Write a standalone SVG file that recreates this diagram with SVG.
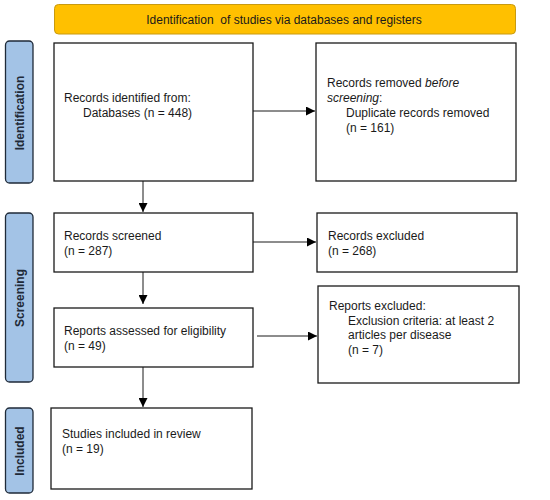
<svg xmlns="http://www.w3.org/2000/svg" width="550" height="500" viewBox="0 0 550 500">
<defs>
<style>
text{font-family:"Liberation Sans",Arial,sans-serif;font-size:12px;fill:#1a1a1a}
.lbl{font-weight:bold;fill:#1f2a38}
.box{fill:#fff;stroke:#1a1a1a;stroke-width:1.3}
.side{fill:#a3c3e6;stroke:#1f2a38;stroke-width:1.3}
.conn{stroke:#1a1a1a;stroke-width:1;fill:none;marker-end:url(#ah)}
</style>
<marker id="ah" viewBox="0 0 10 10" refX="10" refY="5" markerWidth="9" markerHeight="9" markerUnits="userSpaceOnUse" orient="auto"><path d="M0,0 L10,5 L0,10 z" fill="#000"/></marker>
</defs>
<rect width="550" height="500" fill="#fff"/>
<g id="header">
<rect x="54.5" y="4.5" width="461" height="29.5" rx="4" fill="#ffc000" stroke="#c89a10" stroke-width="1"/>
<text x="284" y="24" text-anchor="middle" font-size="13" xml:space="preserve">Identification  of studies via databases and registers</text>
</g>
<g id="side-identification">
<rect class="side" x="5.5" y="41" width="27.5" height="142" rx="4"/>
<text class="lbl" transform="translate(23.5,113) rotate(-90)" text-anchor="middle">Identification</text>
</g>
<g id="side-screening">
<rect class="side" x="5.5" y="213" width="27.5" height="169" rx="4"/>
<text class="lbl" transform="translate(23.5,298) rotate(-90)" text-anchor="middle">Screening</text>
</g>
<g id="side-included">
<rect class="side" x="5.5" y="408" width="27.5" height="85" rx="4"/>
<text class="lbl" transform="translate(23.5,451) rotate(-90)" text-anchor="middle">Included</text>
</g>
<g id="records-identified">
<rect class="box" x="54" y="43" width="199" height="138"/>
<text x="64" y="102">Records identified from:</text>
<text x="83" y="117">Databases (n = 448)</text>
</g>
<g id="records-removed">
<rect class="box" x="316" y="43" width="200" height="138"/>
<text x="327" y="87">Records removed <tspan font-style="italic">before</tspan></text>
<text x="327" y="102" font-style="italic">screening<tspan font-style="normal">:</tspan></text>
<text x="346" y="117">Duplicate records removed</text>
<text x="346" y="132">(n = 161)</text>
</g>
<g id="records-screened">
<rect class="box" x="54" y="213" width="199" height="59"/>
<text x="64" y="240">Records screened</text>
<text x="64" y="255">(n = 287)</text>
</g>
<g id="records-excluded">
<rect class="box" x="317" y="213" width="200" height="59"/>
<text x="328" y="240">Records excluded</text>
<text x="328" y="255">(n = 268)</text>
</g>
<g id="reports-assessed">
<rect class="box" x="54" y="308" width="199" height="59"/>
<text x="64" y="335">Reports assessed for eligibility</text>
<text x="64" y="350">(n = 49)</text>
</g>
<g id="reports-excluded">
<rect class="box" x="318" y="286" width="201" height="97"/>
<text x="329" y="310">Reports excluded:</text>
<text x="348" y="325">Exclusion criteria: at least 2</text>
<text x="348" y="339">articles per disease</text>
<text x="348" y="354">(n = 7)</text>
</g>
<g id="studies-included">
<rect class="box" x="51" y="408" width="201" height="81"/>
<text x="62" y="438">Studies included in review</text>
<text x="62" y="453">(n = 19)</text>
</g>
<g id="connectors">
<line class="conn" x1="253" y1="111" x2="315" y2="111"/>
<line class="conn" x1="143" y1="181" x2="143" y2="212"/>
<line class="conn" x1="253" y1="242" x2="316" y2="242"/>
<line class="conn" x1="143" y1="272" x2="143" y2="304"/>
<line class="conn" x1="257" y1="336" x2="317" y2="336"/>
<line class="conn" x1="143" y1="367" x2="143" y2="407"/>
</g>
</svg>
